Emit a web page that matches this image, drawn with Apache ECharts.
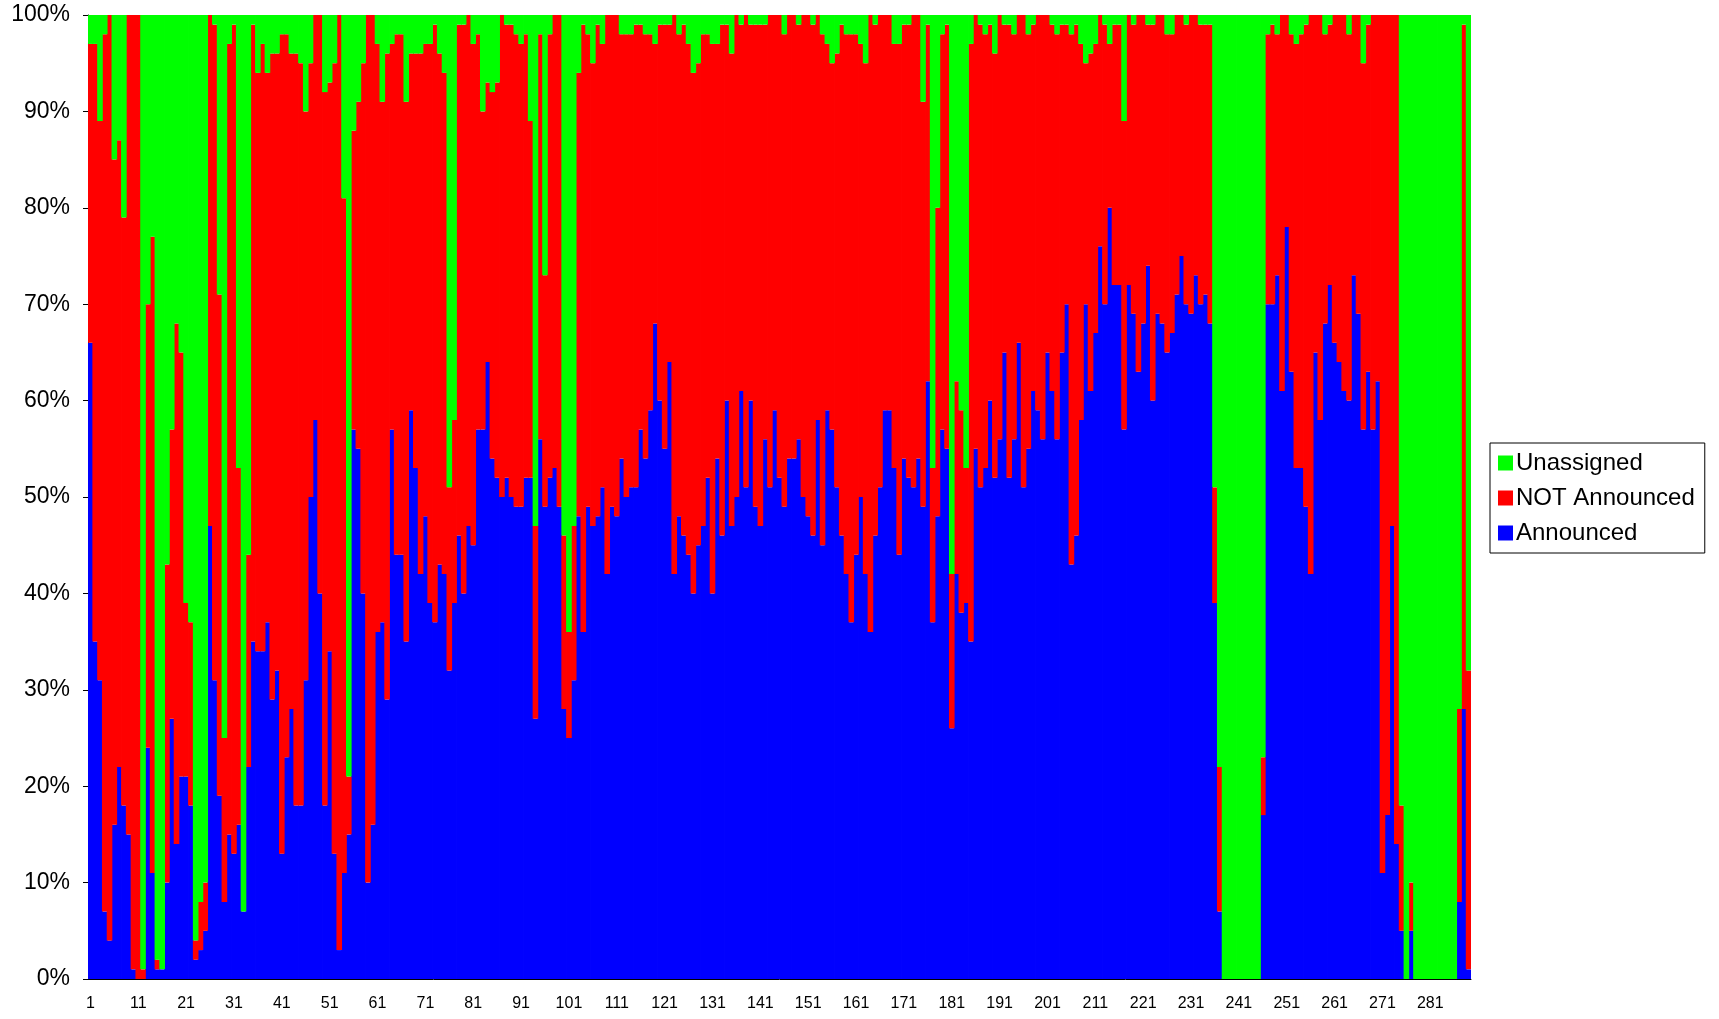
<!DOCTYPE html>
<html>
<head>
<meta charset="utf-8">
<title>Announcement status</title>
<script src="https://cdn.jsdelivr.net/npm/echarts@6/dist/echarts.min.js"></script>
<style>
  html, body { margin: 0; padding: 0; background: #fff; }
  #chart { width: 1719px; height: 1019px; }
</style>
</head>
<body>
<div id="chart"></div>
<script>
// categories 1..289
const categories = Array.from({ length: 289 }, (_, i) => String(i + 1))

// percentages per category
const announced = [
  66, 35, 31, 7, 4, 16, 22, 18, 15, 1,
  0, 0, 24, 11, 1, 1, 10, 27, 14, 21,
  21, 18, 2, 3, 5, 47, 31, 19, 8, 15,
  13, 16, 7, 22, 35, 34, 34, 37, 29, 32,
  13, 23, 28, 18, 18, 31, 50, 58, 40, 18,
  34, 13, 3, 11, 15, 57, 55, 40, 10, 16,
  36, 37, 29, 57, 44, 44, 35, 59, 53, 42,
  48, 39, 37, 43, 42, 32, 39, 46, 40, 47,
  45, 57, 57, 64, 54, 52, 50, 52, 50, 49,
  49, 52, 52, 27, 56, 49, 52, 53, 49, 28,
  25, 31, 48, 36, 49, 47, 48, 51, 42, 49,
  48, 54, 50, 51, 51, 57, 54, 59, 68, 60,
  55, 64, 42, 48, 46, 44, 40, 45, 47, 52,
  40, 54, 46, 60, 47, 50, 61, 51, 60, 49,
  47, 56, 51, 59, 52, 49, 54, 54, 56, 50,
  48, 46, 58, 45, 59, 57, 51, 46, 42, 37,
  44, 50, 42, 36, 46, 51, 59, 59, 53, 44,
  54, 52, 51, 54, 49, 62, 37, 48, 57, 55,
  26, 42, 38, 39, 35, 55, 51, 53, 60, 52,
  56, 65, 52, 56, 66, 51, 55, 61, 59, 56,
  65, 61, 56, 65, 70, 43, 46, 58, 70, 61,
  67, 76, 70, 80, 72, 72, 57, 72, 69, 63,
  68, 74, 60, 69, 68, 65, 67, 71, 75, 70,
  69, 73, 70, 71, 68, 39, 7, 0, 0, 0,
  0, 0, 0, 0, 0, 17, 70, 70, 73, 61,
  78, 63, 53, 53, 49, 42, 65, 58, 68, 72,
  66, 64, 61, 60, 73, 69, 57, 63, 57, 62,
  11, 17, 47, 14, 5, 0, 5, 0, 0, 0,
  0, 0, 0, 0, 0, 0, 8, 28, 1
]

const notAnnounced = [
  31, 62, 58, 91, 96, 69, 65, 61, 85, 99,
  100, 1, 46, 66, 1, 0, 33, 30, 54, 44,
  18, 19, 2, 5, 5, 53, 68, 52, 17, 82,
  86, 37, 0, 22, 64, 60, 63, 57, 67, 64,
  85, 75, 68, 78, 77, 59, 45, 42, 60, 74,
  59, 82, 97, 70, 6, 31, 36, 55, 90, 84,
  61, 54, 67, 40, 54, 54, 56, 37, 43, 54,
  49, 58, 62, 53, 52, 19, 19, 53, 59, 53,
  52, 41, 33, 29, 38, 41, 50, 47, 49, 49,
  48, 46, 37, 20, 42, 24, 46, 47, 51, 18,
  11, 16, 46, 63, 49, 48, 51, 46, 58, 51,
  52, 44, 48, 47, 48, 42, 44, 39, 29, 39,
  44, 35, 58, 50, 53, 53, 54, 50, 51, 46,
  57, 43, 53, 39, 49, 50, 38, 49, 39, 50,
  52, 43, 49, 41, 48, 49, 46, 46, 43, 50,
  52, 53, 42, 53, 38, 38, 45, 53, 56, 61,
  54, 47, 53, 64, 53, 49, 41, 41, 44, 53,
  45, 47, 49, 46, 42, 37, 16, 32, 41, 44,
  16, 20, 21, 14, 62, 45, 48, 45, 39, 44,
  44, 34, 47, 42, 34, 49, 43, 38, 41, 44,
  35, 38, 42, 34, 29, 55, 53, 39, 25, 35,
  30, 24, 29, 17, 27, 27, 32, 28, 30, 37,
  32, 25, 39, 31, 32, 33, 31, 29, 25, 29,
  31, 27, 29, 28, 31, 12, 15, 0, 0, 0,
  0, 0, 0, 0, 0, 6, 28, 29, 25, 39,
  22, 35, 44, 45, 50, 58, 35, 42, 30, 27,
  34, 36, 39, 38, 27, 31, 38, 36, 43, 38,
  89, 83, 53, 86, 13, 0, 5, 0, 0, 0,
  0, 0, 0, 0, 0, 0, 20, 71, 31
]

const unassigned = [
  3, 3, 11, 2, 0, 15, 13, 21, 0, 0,
  0, 99, 30, 23, 98, 99, 57, 43, 32, 35,
  61, 63, 96, 92, 90, 0, 1, 29, 75, 3,
  1, 47, 93, 56, 1, 6, 3, 6, 4, 4,
  2, 2, 4, 4, 5, 10, 5, 0, 0, 8,
  7, 5, 0, 19, 79, 12, 9, 5, 0, 0,
  3, 9, 4, 3, 2, 2, 9, 4, 4, 4,
  3, 3, 1, 4, 6, 49, 42, 1, 1, 0,
  3, 2, 10, 7, 8, 7, 0, 1, 1, 2,
  3, 2, 11, 53, 2, 27, 2, 0, 0, 54,
  64, 53, 6, 1, 2, 5, 1, 3, 0, 0,
  0, 2, 2, 2, 1, 1, 2, 2, 3, 1,
  1, 1, 0, 2, 1, 3, 6, 5, 2, 2,
  3, 3, 1, 1, 4, 0, 1, 0, 1, 1,
  1, 1, 0, 0, 0, 2, 0, 0, 1, 0,
  0, 1, 0, 2, 3, 5, 4, 1, 2, 2,
  2, 3, 5, 0, 1, 0, 0, 0, 3, 3,
  1, 1, 0, 0, 9, 1, 47, 20, 2, 1,
  58, 38, 41, 47, 3, 0, 1, 2, 1, 4,
  0, 1, 1, 2, 0, 0, 2, 1, 0, 0,
  0, 1, 2, 1, 1, 2, 1, 3, 5, 4,
  3, 0, 1, 3, 1, 1, 11, 0, 1, 0,
  0, 1, 1, 0, 0, 2, 2, 0, 0, 1,
  0, 0, 1, 1, 1, 49, 78, 100, 100, 100,
  100, 100, 100, 100, 100, 77, 2, 1, 2, 0,
  0, 2, 3, 2, 1, 0, 0, 0, 2, 1,
  0, 0, 0, 2, 0, 0, 5, 1, 0, 0,
  0, 0, 0, 0, 82, 100, 90, 100, 100, 100,
  100, 100, 100, 100, 100, 100, 72, 1, 68
]

const chart = echarts.init(document.getElementById('chart'), null, { renderer: 'canvas' })

// one stacked bar series; bars a bit wider than the band so no seams show
function barSeries(name, data, color) {
  return {
    name: name,
    type: 'bar',
    stack: 'total',
    barWidth: 5.6,
    barGap: '0%',
    itemStyle: { color: color },
    emphasis: { disabled: true },
    data: data
  }
}

chart.setOption({
  animation: false,
  backgroundColor: '#ffffff',
  textStyle: { fontFamily: 'Liberation Sans, Arial, sans-serif', color: '#000' },
  grid: { left: 88, right: 248, top: 15, bottom: 40 },
  legend: {
    orient: 'vertical',
    left: 1490,
    top: 443,
    padding: [8, 10, 8, 8],
    itemGap: 11,
    itemWidth: 15,
    itemHeight: 15,
    borderColor: '#000',
    borderWidth: 1,
    icon: 'rect',
    textStyle: { fontSize: 24, color: '#000', padding: [0, 0, 0, -2] },
    data: ['Unassigned', 'NOT Announced', 'Announced']
  },
  xAxis: {
    type: 'category',
    data: categories,
    axisLine: { lineStyle: { color: '#000' } },
    axisTick: { interval: 9, length: 5, lineStyle: { color: '#000' } },
    axisLabel: { interval: 9, fontSize: 16, color: '#000', margin: 17 }
  },
  yAxis: {
    type: 'value',
    min: 0,
    max: 100,
    interval: 10,
    axisLine: { show: true, lineStyle: { color: '#000' } },
    axisTick: { show: true, length: 5, lineStyle: { color: '#000' } },
    splitLine: { show: false },
    axisLabel: { formatter: '{value}%', fontSize: 23, color: '#000', margin: 18 }
  },
  series: [
    barSeries('Announced', announced, '#0000ff'),
    barSeries('NOT Announced', notAnnounced, '#ff0000'),
    barSeries('Unassigned', unassigned, '#00ff00')
  ]
})
</script>
</body>
</html>
